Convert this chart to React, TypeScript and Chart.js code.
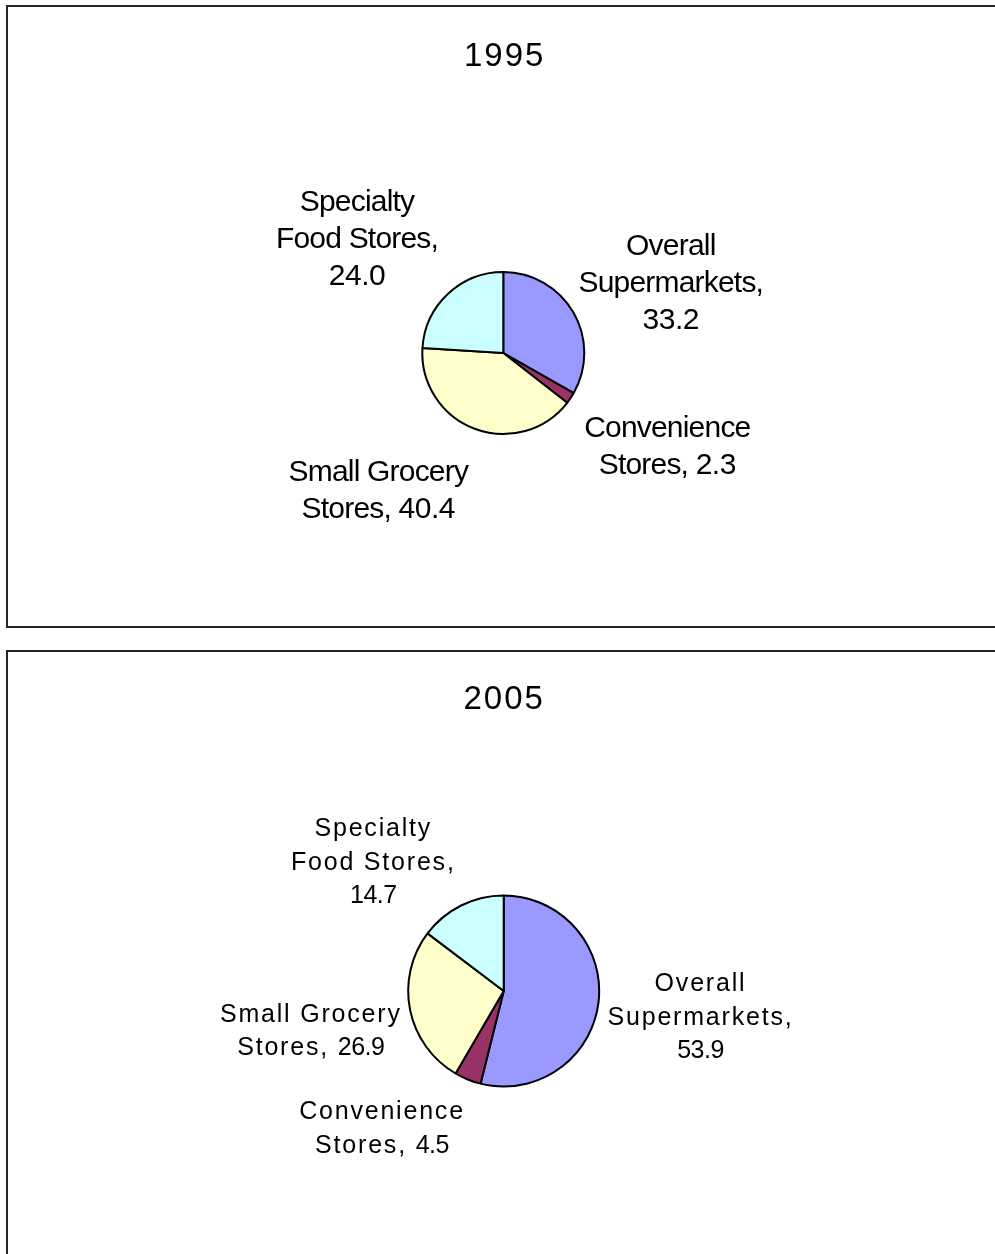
import { useEffect, useRef } from 'react';
import { Chart, PieController, ArcElement } from 'chart.js';

Chart.register(PieController, ArcElement);

// Store categories, in slice order (clockwise from 12 o'clock)
const categories = [
  'Overall Supermarkets',
  'Convenience Stores',
  'Small Grocery Stores',
  'Specialty Food Stores',
];

// How each slice label wraps; {v} is replaced by the slice value
const labelTemplates = [
  ['Overall', 'Supermarkets,', '{v}'],
  ['Convenience', 'Stores, {v}'],
  ['Small Grocery', 'Stores, {v}'],
  ['Specialty', 'Food Stores,', '{v}'],
];

const values1995 = [33.2, 2.3, 40.4, 24.0];
const values2005 = [53.9, 4.5, 26.9, 14.7];

const sliceColors = ['#9999FF', '#993366', '#FFFFCC', '#CCFFFF'];

const FONT = '"Liberation Sans", Arial, Helvetica, sans-serif';
const CANVAS_WIDTH = 987;

type Panel = {
  title: string;
  values: number[];
  boxTop: number;
  boxHeight: number;
  canvasHeight: number;
  cx: number;
  cy: number;
  r: number;
  titleX: number;
  titleY: number;
  titleSize: number;
  fontSize: number;
  lineHeight: number;
  letterSpacing: number;
  digitSpacing: number;
  labelOffsets: number[][];
};

const panels: Panel[] = [
  {
    title: '1995',
    values: values1995,
    boxTop: 5,
    boxHeight: 623,
    canvasHeight: 619,
    cx: 495.3,
    cy: 346,
    r: 81,
    titleX: 496.7,
    titleY: 47.3,
    titleSize: 33,
    fontSize: 30,
    lineHeight: 37,
    letterSpacing: -0.8,
    digitSpacing: -0.5,
    labelOffsets: [
      [167.5, -71.3],
      [164, 92],
      [-125, 136.2],
      [-146.3, -116],
    ],
  },
  {
    title: '2005',
    values: values2005,
    boxTop: 650,
    boxHeight: 700,
    canvasHeight: 602,
    cx: 495.7,
    cy: 339,
    r: 95.5,
    titleX: 496.2,
    titleY: 45.5,
    titleSize: 33,
    fontSize: 25,
    lineHeight: 33.3,
    letterSpacing: 1.8,
    digitSpacing: -0.5,
    labelOffsets: [
      [196.8, 24.8],
      [-121.7, 136],
      [-192.9, 38.8],
      [-130.4, -130.2],
    ],
  },
];

const BORDER_WIDTH = 2;

function drawSpacedLine(
  ctx: CanvasRenderingContext2D,
  text: string,
  centerX: number,
  baseline: number,
  letterSpacing: number,
  digitSpacing: number
) {
  const runs = text.match(/[0-9.]+|[^0-9.]+/g) || [];
  const spacingFor = (run: string) => (/^[0-9.]+$/.test(run) ? digitSpacing : letterSpacing);
  const widths = runs.map((run) => {
    (ctx as any).letterSpacing = `${spacingFor(run)}px`;
    return ctx.measureText(run).width;
  });
  const total = widths.reduce((a, b) => a + b, 0);
  let x = centerX - total / 2;
  runs.forEach((run, i) => {
    (ctx as any).letterSpacing = `${spacingFor(run)}px`;
    ctx.fillText(run, x, baseline);
    x += widths[i];
  });
  (ctx as any).letterSpacing = '0px';
}

function makeLabelPlugin(panel: Panel) {
  return {
    id: 'sliceLabels',
    afterDraw(chart: Chart) {
      const ctx = chart.ctx;
      ctx.save();
      ctx.fillStyle = '#000000';
      ctx.textAlign = 'left';
      ctx.textBaseline = 'alphabetic';

      // Title
      ctx.font = `${panel.titleSize}px ${FONT}`;
      drawSpacedLine(ctx, panel.title, panel.titleX, panel.titleY + panel.titleSize * 0.358, 2, 2);

      // Slice labels, positioned around the pie centre
      const meta = chart.getDatasetMeta(0);
      ctx.font = `${panel.fontSize}px ${FONT}`;
      meta.data.forEach((arc: any, i: number) => {
        const { x: px, y: py } = arc.getProps(['x', 'y'], true);
        const [dx, dy] = panel.labelOffsets[i];
        const value = (chart.data.datasets[0].data[i] as number).toFixed(1);
        const lines = labelTemplates[i].map((t) => t.replace('{v}', value));
        const blockCenterY = py + dy;
        const firstCenter = blockCenterY - ((lines.length - 1) * panel.lineHeight) / 2;
        lines.forEach((line, k) => {
          const centerY = firstCenter + k * panel.lineHeight;
          drawSpacedLine(
            ctx,
            line,
            px + dx,
            centerY + panel.fontSize * 0.358,
            panel.letterSpacing,
            panel.digitSpacing
          );
        });
      });
      ctx.restore();
    },
  };
}

function PiePanel({ panel }: { panel: Panel }) {
  const canvasRef = useRef<HTMLCanvasElement | null>(null);

  useEffect(() => {
    const canvas = canvasRef.current;
    if (!canvas) return;
    const side = 2 * panel.r + BORDER_WIDTH;
    const chart = new Chart(canvas, {
      type: 'pie',
      data: {
        labels: categories,
        datasets: [
          {
            data: panel.values,
            backgroundColor: sliceColors,
            borderColor: '#000000',
            borderWidth: BORDER_WIDTH,
          },
        ],
      },
      options: {
        responsive: false,
        animation: false,
        events: [],
        layout: {
          padding: {
            left: panel.cx - side / 2,
            right: CANVAS_WIDTH - (panel.cx + side / 2),
            top: panel.cy - side / 2,
            bottom: panel.canvasHeight - (panel.cy + side / 2),
          },
        },
        plugins: {
          legend: { display: false },
          tooltip: { enabled: false },
        },
      },
      plugins: [makeLabelPlugin(panel)],
    });
    return () => chart.destroy();
  }, [panel]);

  return (
    <div
      style={{
        position: 'absolute',
        left: 6,
        top: panel.boxTop,
        width: 1100,
        height: panel.boxHeight,
        border: '2px solid #262626',
        boxSizing: 'border-box',
        background: '#ffffff',
      }}
    >
      <canvas
        ref={canvasRef}
        width={CANVAS_WIDTH}
        height={panel.canvasHeight}
        style={{ display: 'block', width: CANVAS_WIDTH, height: panel.canvasHeight }}
      />
    </div>
  );
}

export default function App() {
  return (
    <div
      style={{
        position: 'fixed',
        left: 0,
        top: 0,
        width: 995,
        height: 1254,
        overflow: 'hidden',
        background: '#ffffff',
      }}
    >
      {panels.map((p) => (
        <PiePanel key={p.title} panel={p} />
      ))}
    </div>
  );
}
